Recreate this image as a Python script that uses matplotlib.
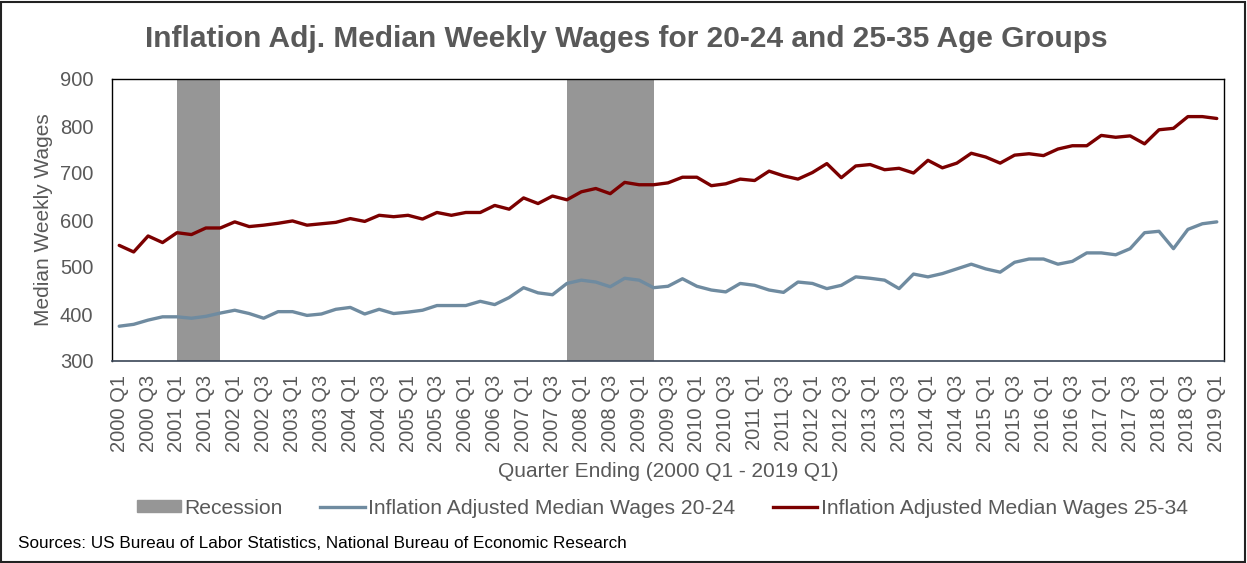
import matplotlib.pyplot as plt
from matplotlib.patches import Patch, Rectangle
from matplotlib.lines import Line2D

plt.rcParams['font.family'] = ['Liberation Sans', 'DejaVu Sans']

# quarters 2000 Q1 .. 2019 Q1
years = list(range(2000, 2020))
quarters = [f"{y} Q{q}" for y in years for q in (1, 2, 3, 4)][:77]

wages_20_24 = [374, 378, 387, 394, 394, 391, 395, 402, 408, 401,
               391, 405, 405, 397, 400, 410, 414, 400, 410, 401,
               404, 408, 418, 418, 418, 427, 420, 435, 456, 445,
               441, 465, 472, 468, 458, 476, 472, 456, 459, 475,
               459, 451, 447, 465, 461, 451, 446, 468, 465, 454,
               461, 479, 476, 472, 454, 485, 479, 486, 496, 506,
               496, 489, 510, 517, 517, 506, 512, 530, 530, 526,
               539, 573, 576, 539, 580, 592, 596]

wages_25_34 = [546, 532, 566, 552, 573, 569, 583, 583, 596, 586,
               589, 593, 598, 589, 592, 595, 603, 597, 610, 607,
               610, 602, 616, 610, 616, 616, 631, 623, 647, 635,
               651, 643, 660, 667, 656, 680, 675, 675, 679, 691,
               691, 673, 677, 687, 684, 704, 694, 687, 701, 720,
               690, 715, 718, 707, 710, 700, 727, 711, 721, 742,
               734, 721, 738, 741, 737, 751, 758, 758, 780, 776,
               779, 762, 792, 795, 820, 820, 816]

recession_start = ["2001 Q1", "2007 Q4"]
recession_end = ["2001 Q4", "2009 Q2"]

GRAY_TXT = '#595959'
RED = '#7B0000'
BLUE = '#6F8BA0'
SHADE = '#969696'

W, H = 1247, 563
fig = plt.figure(figsize=(W / 100, H / 100), dpi=100)
ax = fig.add_axes([112 / W, 1 - 361 / H, (1224 - 112) / W, (361 - 79) / H])

x = list(range(len(quarters)))

for s, e in zip(recession_start, recession_end):
    ax.axvspan(quarters.index(s), quarters.index(e), color=SHADE, lw=0, zorder=1)

ax.plot(x, wages_20_24, color=BLUE, lw=2.4, zorder=3, solid_capstyle='round')
ax.plot(x, wages_25_34, color=RED, lw=2.4, zorder=3, solid_capstyle='round')

ax.set_xlim(-0.5, len(quarters) - 0.5)
ax.set_ylim(300, 900)
ax.set_yticks(range(300, 901, 100))
ax.set_xticks(x[::2])
ax.set_xticklabels(quarters[::2], rotation=90)
ax.tick_params(axis='both', length=0, labelsize=14.5, labelcolor=GRAY_TXT)
ax.tick_params(axis='x', pad=10)
ax.tick_params(axis='y', pad=13.5)

for side in ['left', 'top', 'right']:
    ax.spines[side].set_color('black')
    ax.spines[side].set_linewidth(1.0)
ax.spines['bottom'].set_color('#3A4556')
ax.spines['bottom'].set_linewidth(1.2)

ax.set_ylabel('Median Weekly Wages', fontsize=15, color=GRAY_TXT, labelpad=5)
ax.set_xlabel('Quarter Ending (2000 Q1 - 2019 Q1)', fontsize=15, color=GRAY_TXT, labelpad=7)

fig.text(0.502, 1 - 47 / H, 'Inflation Adj. Median Weekly Wages for 20-24 and 25-35 Age Groups',
         ha='center', va='baseline', fontsize=21.5, fontweight='bold', color=GRAY_TXT)

handles = [Patch(color=SHADE),
           Line2D([], [], color=BLUE, lw=2.4),
           Line2D([], [], color=RED, lw=2.4)]
labels = ['Recession', 'Inflation Adjusted Median Wages 20-24', 'Inflation Adjusted Median Wages 25-34']
fig.legend(handles, labels, loc='center', bbox_to_anchor=(662 / W, 1 - 508 / H), ncol=3,
           frameon=False, fontsize=15.2, labelcolor=GRAY_TXT, handlelength=2.1,
           handleheight=0.47, handletextpad=0.15, columnspacing=1.8)

fig.text(18 / W, 1 - 543 / H, 'Sources: US Bureau of Labor Statistics, National Bureau of Economic Research',
         ha='left', va='center', fontsize=12.3, color='black')

fig.patches.append(Rectangle((1 / W, 1 / H), 1 - 3 / W, 1 - 3 / H, transform=fig.transFigure,
                             fill=False, edgecolor='#222222', lw=1.5))

fig.savefig('out.png', dpi=100)
